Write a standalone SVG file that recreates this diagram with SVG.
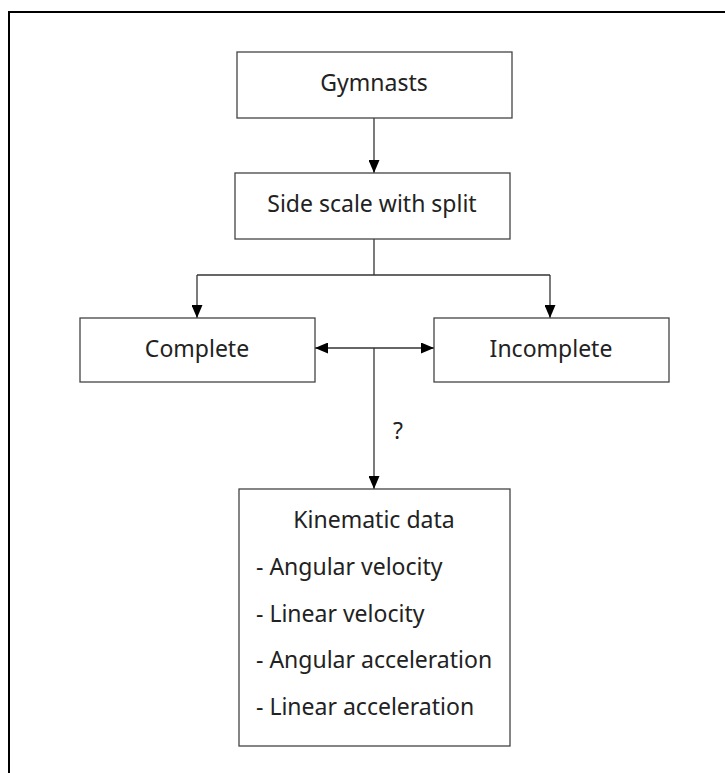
<svg xmlns="http://www.w3.org/2000/svg" width="725" height="773" viewBox="0 0 725 773">
<style>
.box{fill:#fff;stroke:#444;stroke-width:1.3}
.t{font-family:"Noto Sans","Open Sans",sans-serif;font-size:23px;fill:#222}
.c{text-anchor:middle}
.ln{stroke:#333;stroke-width:1.3;fill:none}
</style>
<defs>
<marker id="ah" viewBox="0 0 13 11" refX="13" refY="5.5" markerWidth="13" markerHeight="11" markerUnits="userSpaceOnUse" orient="auto-start-reverse">
<path d="M0,0 L13,5.5 L0,11 Z" fill="#000"/>
</marker>
</defs>
<rect width="725" height="773" fill="#fff"/>
<rect x="9" y="12" width="730" height="780" fill="none" stroke="#000" stroke-width="2"/>
<g id="connectors">
<line class="ln" x1="374" y1="118" x2="374" y2="173" marker-end="url(#ah)"/>
<polyline class="ln" points="374,239 374,275"/>
<polyline class="ln" points="197,275 550,275"/>
<line class="ln" x1="197" y1="275" x2="197" y2="318" marker-end="url(#ah)"/>
<line class="ln" x1="550" y1="275" x2="550" y2="318" marker-end="url(#ah)"/>
<line class="ln" x1="315" y1="348" x2="434" y2="348" marker-start="url(#ah)" marker-end="url(#ah)"/>
<line class="ln" x1="374" y1="348" x2="374" y2="489" marker-end="url(#ah)"/>
<text class="t" x="393" y="439">?</text>
</g>
<g id="gymnasts">
<rect class="box" x="237" y="52" width="275" height="66"/>
<text class="t c" x="374" y="91">Gymnasts</text>
</g>
<g id="side-scale">
<rect class="box" x="235" y="173" width="275" height="66"/>
<text class="t c" x="372" y="212">Side scale with split</text>
</g>
<g id="complete">
<rect class="box" x="80" y="318" width="235" height="64"/>
<text class="t c" x="197" y="357">Complete</text>
</g>
<g id="incomplete">
<rect class="box" x="434" y="318" width="235" height="64"/>
<text class="t c" x="551" y="357">Incomplete</text>
</g>
<g id="kinematic">
<rect class="box" x="239" y="489" width="271" height="257"/>
<text class="t c" x="374" y="528">Kinematic data</text>
<text class="t" x="256" y="575">- Angular velocity</text>
<text class="t" x="256" y="622">- Linear velocity</text>
<text class="t" x="256" y="668">- Angular acceleration</text>
<text class="t" x="256" y="715">- Linear acceleration</text>
</g>
</svg>
